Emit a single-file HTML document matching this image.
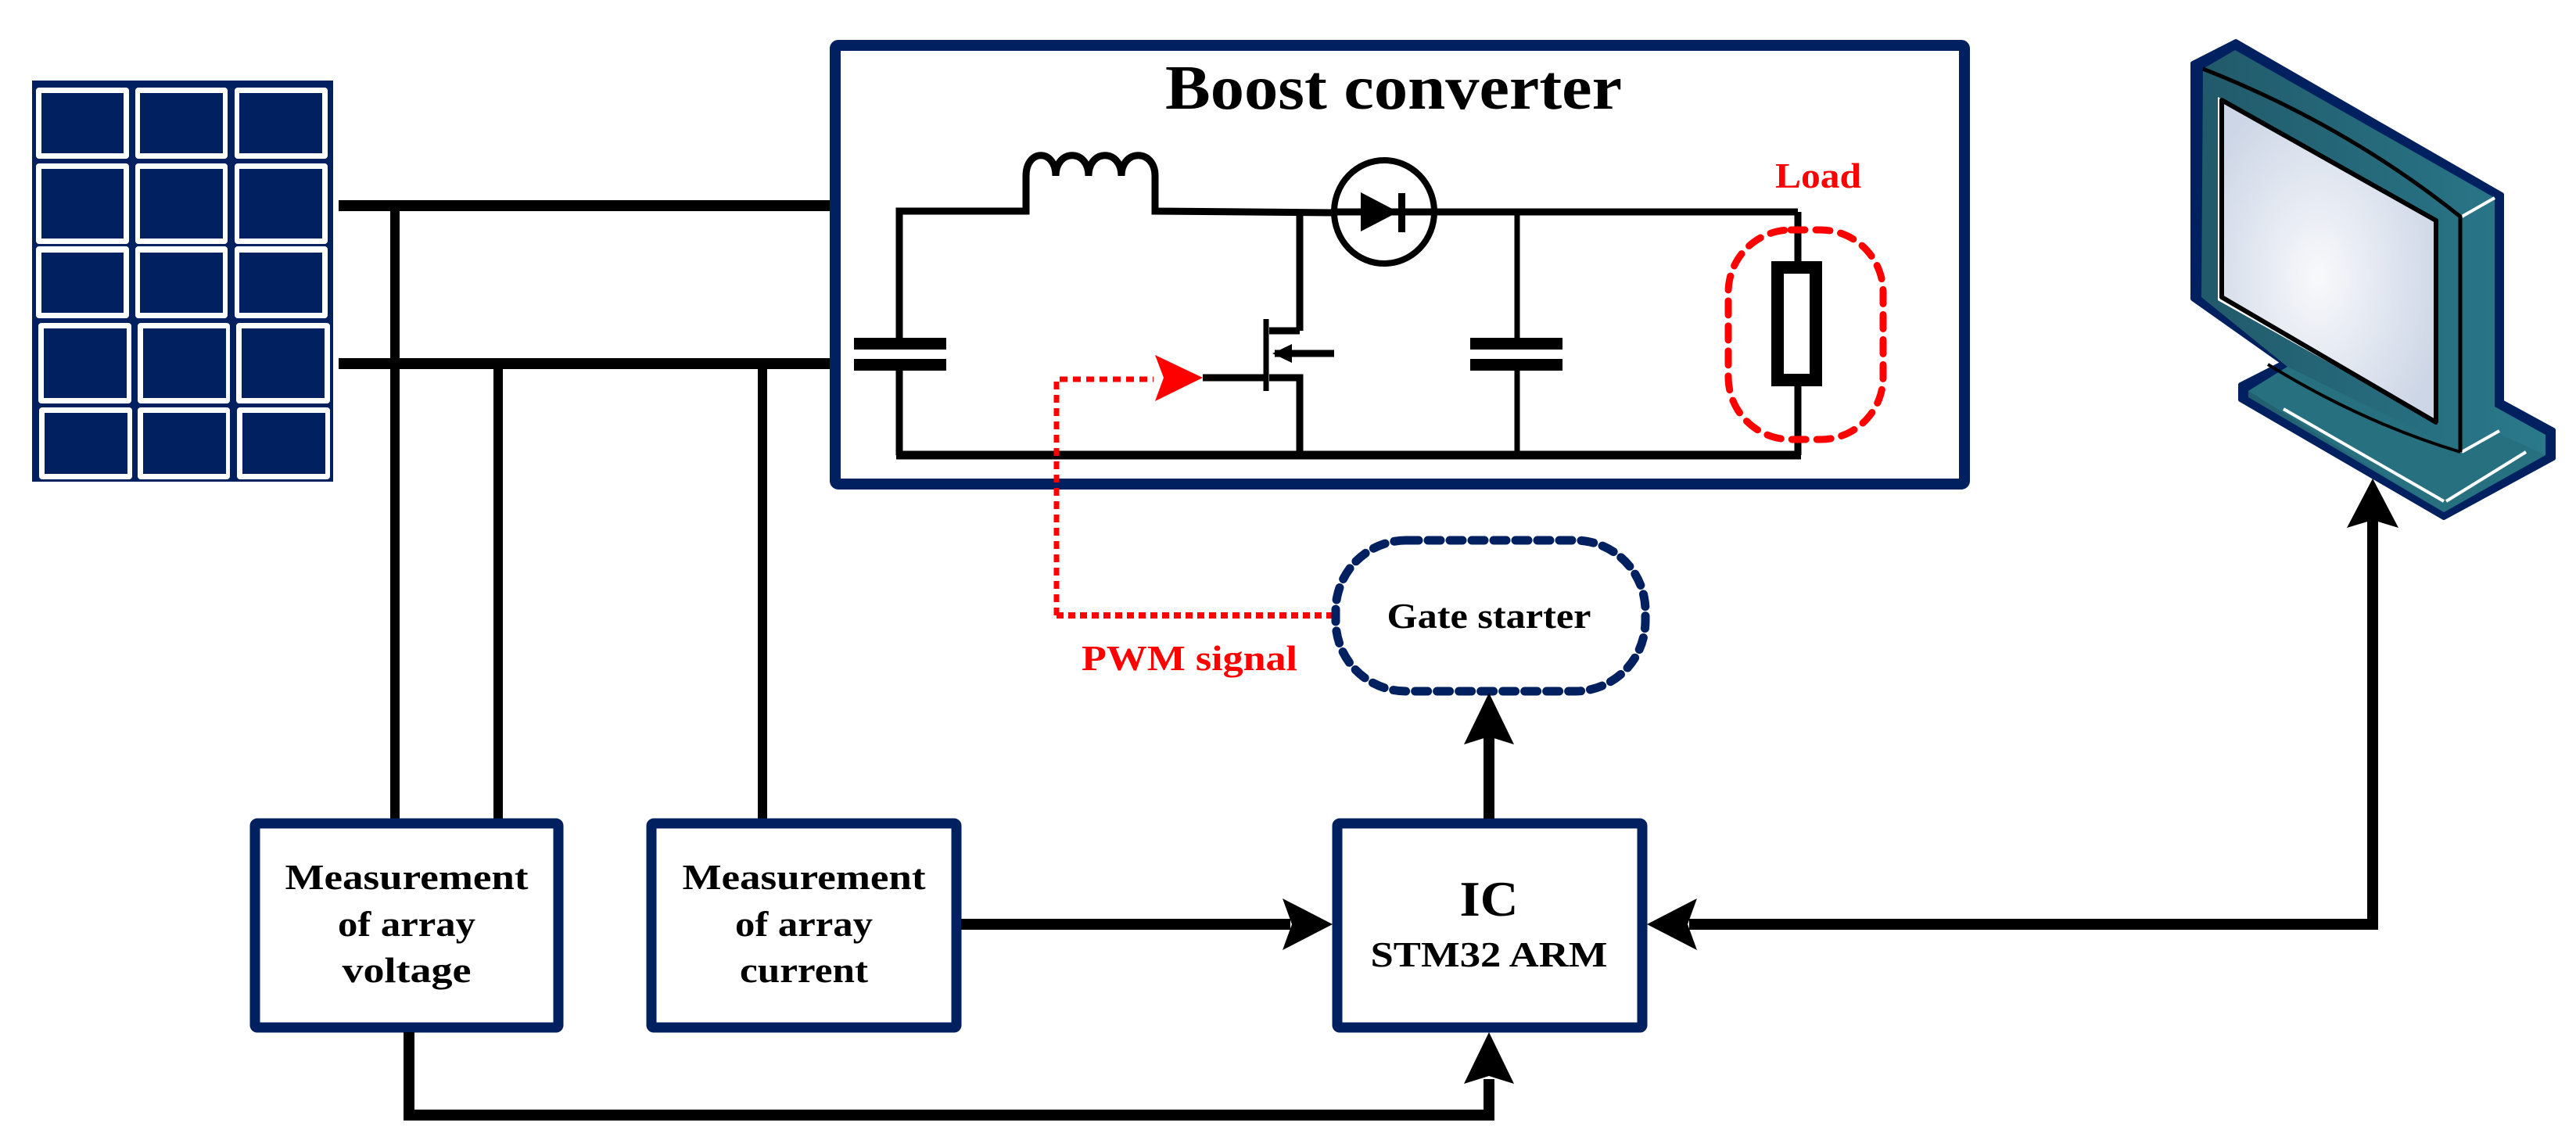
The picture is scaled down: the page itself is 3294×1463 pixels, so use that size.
<!DOCTYPE html>
<html><head><meta charset="utf-8"><style>html,body{margin:0;padding:0;background:#fff}svg{display:block}</style></head>
<body>
<svg width="3294" height="1463" viewBox="0 0 3294 1463" xmlns="http://www.w3.org/2000/svg" font-family="'Liberation Serif', serif">
<defs>
<radialGradient id="scr" cx="0.45" cy="0.55" r="0.6">
<stop offset="0" stop-color="#f8f9fb"/><stop offset="1" stop-color="#cdd6e6"/>
</radialGradient>
<linearGradient id="tl" x1="0" y1="0" x2="1" y2="0"><stop offset="0" stop-color="#215a6a"/><stop offset="1" stop-color="#2a7a8c"/></linearGradient>
</defs>
<rect x="41" y="103" width="385" height="513" fill="#012060"/>
<g fill="#fff">
<rect x="46" y="112" width="119" height="91" rx="4"/><rect x="173" y="112" width="118" height="91" rx="4"/><rect x="300" y="112" width="119" height="91" rx="4"/>
<rect x="46" y="209" width="119" height="103" rx="4"/><rect x="173" y="209" width="118" height="103" rx="4"/><rect x="300" y="209" width="119" height="103" rx="4"/>
<rect x="46" y="315" width="119" height="92" rx="4"/><rect x="173" y="315" width="118" height="92" rx="4"/><rect x="300" y="315" width="119" height="92" rx="4"/>
<rect x="49" y="413" width="119" height="103" rx="4"/><rect x="176" y="413" width="118" height="103" rx="4"/><rect x="302" y="413" width="120" height="103" rx="4"/>
<rect x="50" y="521" width="119" height="92" rx="4"/><rect x="176" y="521" width="118" height="92" rx="4"/><rect x="303" y="521" width="119" height="92" rx="4"/>
</g>
<g fill="#012060">
<rect x="53" y="119" width="105" height="77"/><rect x="179" y="119" width="106" height="77"/><rect x="306" y="119" width="106" height="77"/>
<rect x="53" y="216" width="105" height="89"/><rect x="179" y="216" width="106" height="89"/><rect x="306" y="216" width="106" height="89"/>
<rect x="53" y="323" width="105" height="77"/><rect x="179" y="323" width="106" height="77"/><rect x="306" y="323" width="106" height="77"/>
<rect x="56" y="420" width="106" height="89"/><rect x="183" y="420" width="106" height="89"/><rect x="309" y="420" width="106" height="89"/>
<rect x="57" y="528" width="106" height="78"/><rect x="183" y="528" width="106" height="78"/><rect x="310" y="528" width="106" height="78"/>
</g>
<g stroke="#000" fill="none">
<line x1="433" y1="263" x2="1062" y2="263" stroke-width="14"/>
<line x1="433" y1="465" x2="1062" y2="465" stroke-width="14"/>
<line x1="505" y1="263" x2="505" y2="1047" stroke-width="12"/>
<line x1="637" y1="465" x2="637" y2="1047" stroke-width="12"/>
<line x1="975" y1="465" x2="975" y2="1047" stroke-width="12"/>
</g>
<rect x="1068" y="58" width="1444" height="561" rx="4" fill="#fff" stroke="#012060" stroke-width="14"/>
<text x="1782" y="139" font-size="80" font-weight="bold" text-anchor="middle" textLength="584" lengthAdjust="spacingAndGlyphs">Boost converter</text>
<g stroke="#000" fill="none" stroke-width="9">
<polyline points="1150,582 1150,270 1312,270 1312,225"/>
<path d="M1312,225 C1312,190 1350,190 1350,225 C1350,190 1392,190 1392,225 C1392,190 1434,190 1434,225 C1434,190 1477,190 1477,225 L1477,270 L1706,272"/>
<line x1="1834" y1="271" x2="2299" y2="271"/>
<line x1="2299" y1="271" x2="2299" y2="336"/>
<line x1="2299" y1="492" x2="2299" y2="582"/>
<line x1="1146" y1="582" x2="2303" y2="582" stroke-width="11"/>
<line x1="1662" y1="272" x2="1662" y2="423"/>
<polyline points="1662,423 1623,423"/>
<polyline points="1623,483 1662,483 1662,582"/>
<line x1="1940" y1="271" x2="1940" y2="582" stroke-width="7"/>
<line x1="1619" y1="408" x2="1619" y2="500" stroke-width="7"/>
<line x1="1538" y1="483" x2="1619" y2="483"/>
<line x1="1630" y1="452" x2="1706" y2="452"/>
</g>
<polygon points="1627,452 1652,440 1652,464" fill="#000"/>
<ellipse cx="1770" cy="271" rx="64" ry="66" fill="#fff" stroke="#000" stroke-width="8"/>
<line x1="1706" y1="271" x2="1834" y2="271" stroke="#000" stroke-width="9"/>
<polygon points="1740,246 1740,296 1788,271" fill="#000"/>
<rect x="1788" y="247" width="9" height="50" fill="#000"/>
<g fill="#fff"><rect x="1120" y="432" width="60" height="40"/><rect x="1910" y="432" width="60" height="40"/></g>
<g fill="#000">
<rect x="1092" y="432" width="118" height="15"/><rect x="1092" y="459" width="118" height="15"/>
<rect x="1880" y="432" width="118" height="15"/><rect x="1880" y="459" width="118" height="15"/>
</g>
<rect x="2273" y="342" width="49" height="144" fill="#fff" stroke="#000" stroke-width="16"/>
<rect x="2210" y="294" width="198" height="268" rx="80" fill="none" stroke="#f00" stroke-width="9" stroke-dasharray="18 14" stroke-linecap="round"/>
<text x="2270" y="240" font-size="46" font-weight="bold" fill="#f00" textLength="110" lengthAdjust="spacingAndGlyphs">Load</text>
<polyline points="1351,787 1351,485 1475,485" fill="none" stroke="#f00" stroke-width="7" stroke-dasharray="10 7"/>
<polygon points="1477,454 1538,483 1477,513 1488,483" fill="#f00"/>
<line x1="1351" y1="787" x2="1704" y2="787" stroke="#f00" stroke-width="8" stroke-dasharray="9 6"/>
<text x="1383" y="857" font-size="46" font-weight="bold" fill="#f00" textLength="276" lengthAdjust="spacingAndGlyphs">PWM signal</text>
<rect x="1708" y="691" width="396" height="193" rx="90" fill="none" stroke="#012060" stroke-width="11" stroke-dasharray="16 12" stroke-linecap="round"/>
<text x="1904" y="803" font-size="46" font-weight="bold" text-anchor="middle" textLength="261" lengthAdjust="spacingAndGlyphs">Gate starter</text>
<g fill="#fff" stroke="#012060" stroke-width="13">
<rect x="326" y="1053" width="388" height="261" rx="3"/>
<rect x="833" y="1053" width="390" height="261" rx="3"/>
<rect x="1710" y="1053" width="390" height="261" rx="3"/>
</g>
<g font-size="46" font-weight="bold" text-anchor="middle">
<text x="520" y="1137" textLength="311" lengthAdjust="spacingAndGlyphs">Measurement</text>
<text x="520" y="1197" textLength="176" lengthAdjust="spacingAndGlyphs">of array</text>
<text x="520" y="1256" textLength="165" lengthAdjust="spacingAndGlyphs">voltage</text>
<text x="1028" y="1137" textLength="311" lengthAdjust="spacingAndGlyphs">Measurement</text>
<text x="1028" y="1197" textLength="176" lengthAdjust="spacingAndGlyphs">of array</text>
<text x="1028" y="1256" textLength="164" lengthAdjust="spacingAndGlyphs">current</text>
<text x="1904" y="1171" font-size="64" textLength="75" lengthAdjust="spacingAndGlyphs">IC</text>
<text x="1904" y="1236" textLength="303" lengthAdjust="spacingAndGlyphs">STM32 ARM</text>
</g>
<g stroke="#000" fill="none" stroke-width="14">
<line x1="1904" y1="1047" x2="1904" y2="940"/>
<line x1="1229" y1="1182" x2="1650" y2="1182"/>
<polyline points="523,1320 523,1426 1904,1426 1904,1380"/>
<polyline points="2160,1182 3034,1182 3034,665"/>
</g>
<g fill="#000">
<polygon points="1904,886 1936,952 1904,942 1872,952"/>
<polygon points="1704,1182 1640,1149 1652,1182 1640,1215"/>
<polygon points="1904,1320 1936,1386 1904,1376 1872,1386"/>
<polygon points="2106,1182 2170,1149 2158,1182 2170,1215"/>
<polygon points="3034,612 3067,675 3034,665 3001,675"/>
</g>
<polygon points="2804,81 2859,53 3199,249 3199,514 3265,550 3265,586 3125,662 2865,511 2865,492 2920,464 2804,382" fill="#012060" stroke="#012060" stroke-width="6" stroke-linejoin="round"/>
<polygon points="2817,88 2858,64 3190,253 3190,520 3255,556 3255,582 3125,655 2875,508 2875,500 2925,469 2815,380" fill="url(#tl)"/>
<polygon points="2875,500 2925,469 3148,578 3194,554 3255,582 3125,655" fill="#26707f"/>
<line x1="2920" y1="523" x2="3125" y2="641" stroke="#fff" stroke-width="4"/>
<line x1="3128" y1="641" x2="3230" y2="578" stroke="#fff" stroke-width="4"/>
<line x1="3148" y1="578" x2="3196" y2="551" stroke="#fff" stroke-width="4"/>
<line x1="3148" y1="277" x2="3190" y2="253" stroke="#fff" stroke-width="4"/>
<path d="M2817,88 Q3000,160 3146,277 L3146,578" fill="none" stroke="#000" stroke-width="5"/>
<path d="M2900,466 Q3020,540 3146,578" fill="none" stroke="#000" stroke-width="4"/>
<polygon points="2836,124 3118,282 3118,542 2836,384" fill="#fff"/>
<polygon points="2841,128 3115,282 3115,540 2841,380" fill="url(#scr)" stroke="#000" stroke-width="6" stroke-linejoin="round"/>
</svg>
</body></html>
